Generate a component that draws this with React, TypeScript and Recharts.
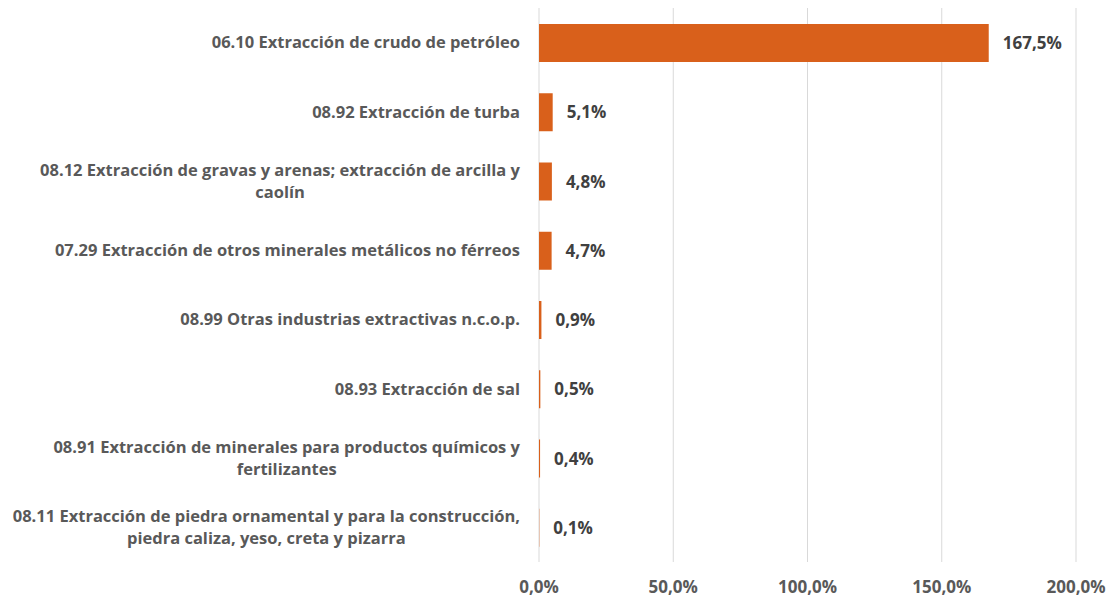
import React from 'react';
import { BarChart, Bar, XAxis, YAxis, CartesianGrid, LabelList } from 'recharts';

const categories: string[] = [
  '06.10 Extracción de crudo de petróleo',
  '08.92 Extracción de turba',
  '08.12 Extracción de gravas y arenas; extracción de arcilla y\ncaolín',
  '07.29 Extracción de otros minerales metálicos no férreos',
  '08.99 Otras industrias extractivas n.c.o.p.',
  '08.93 Extracción de sal',
  '08.91 Extracción de minerales para productos químicos y\nfertilizantes',
  '08.11 Extracción de piedra ornamental y para la construcción,\npiedra caliza, yeso, creta y pizarra',
];
const values: number[] = [167.5, 5.1, 4.8, 4.7, 0.9, 0.5, 0.4, 0.1];
const xTicks: number[] = [0, 50, 100, 150, 200];

const data = categories.map((name, i) => ({ name, value: values[i] }));

const FONT = "'Open Sans', sans-serif";
const CAT_SIZE = 16.5;
const BAR_COLOR = '#D9601B';

let ctx: CanvasRenderingContext2D | null = null;
function measure(text: string, size: number): number {
  if (!ctx) ctx = document.createElement('canvas').getContext('2d');
  if (!ctx) return text.length * size * 0.55;
  ctx.font = `bold ${size}px ${FONT}`;
  return ctx.measureText(text).width;
}

const fmt = (v: number) => v.toFixed(1).replace('.', ',') + '%';

const YTick = (props: any) => {
  const { x, y, payload } = props;
  const lines = String(payload.value).split('\n');
  const w = Math.max(...lines.map((l) => measure(l, CAT_SIZE)));
  const cx = x - w / 2;
  const lh = 22;
  const startY = y - ((lines.length - 1) * lh) / 2;
  return (
    <text
      x={cx}
      y={startY}
      textAnchor="middle"
      fill="#595959"
      fontFamily={FONT}
      fontWeight={700}
      fontSize={CAT_SIZE}
    >
      {lines.map((l, i) => (
        <tspan key={i} x={cx} y={startY + i * lh} dy="0.35em">
          {l}
        </tspan>
      ))}
    </text>
  );
};

export default function App() {
  return (
    <div style={{ position: 'absolute', left: 0, top: 0, width: 1110, height: 599, background: '#fff' }}>
      <BarChart
        width={1110}
        height={599}
        data={data}
        layout="vertical"
        margin={{ top: 8, right: 34, bottom: 7, left: 0 }}
        barSize={38}
      >
        <CartesianGrid horizontal={false} stroke="#D9D9D9" strokeWidth={1} />
        <XAxis
          type="number"
          domain={[0, 200]}
          ticks={xTicks}
          interval={0}
          tickFormatter={fmt}
          axisLine={false}
          tickLine={false}
          tickSize={0}
          tickMargin={19}
          height={30}
          tick={{ fill: '#595959', fontFamily: FONT, fontWeight: 700, fontSize: 17 }}
        />
        <YAxis
          type="category"
          dataKey="name"
          width={539}
          axisLine={false}
          tickLine={false}
          tickSize={0}
          tickMargin={19}
          interval={0}
          tick={<YTick />}
        />
        <Bar dataKey="value" fill={BAR_COLOR} isAnimationActive={false}>
          <LabelList
            dataKey="value"
            position="right"
            offset={14}
            formatter={(v: any) => fmt(Number(v))}
            fill="#404040"
            fontFamily={FONT}
            fontWeight={700}
            fontSize={17}
          />
        </Bar>
      </BarChart>
    </div>
  );
}
